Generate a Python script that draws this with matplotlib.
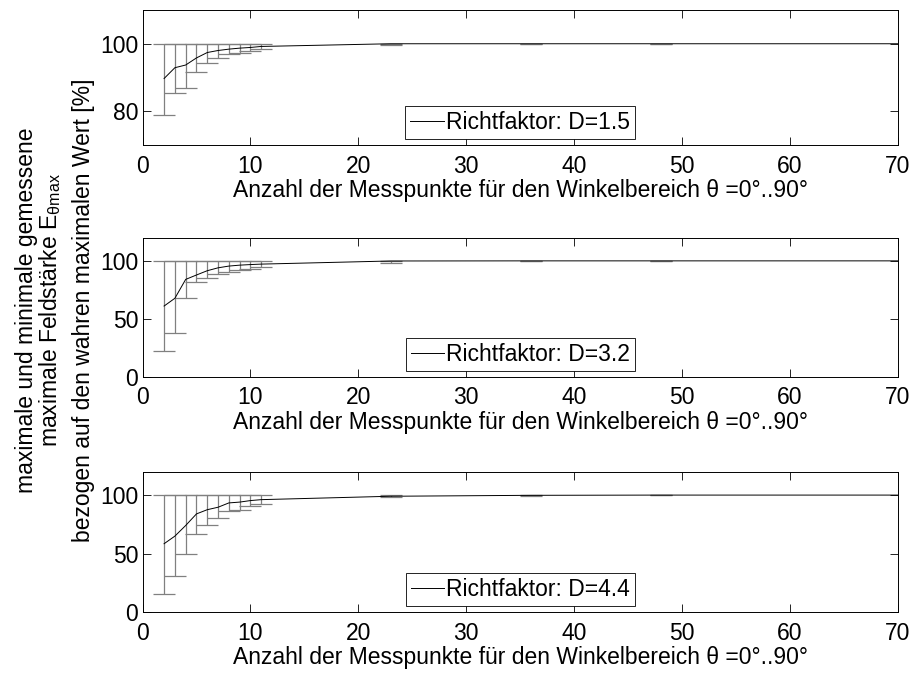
import numpy as np
import matplotlib
matplotlib.use("Agg")
import matplotlib.pyplot as plt

plt.rcParams['font.family'] = ['Liberation Sans', 'DejaVu Sans']
plt.rcParams['mathtext.fontset'] = 'custom'
plt.rcParams['mathtext.rm'] = 'Liberation Sans'
plt.rcParams['mathtext.it'] = 'Liberation Sans'

# Number of measurement points
n_points = [2, 3, 4, 5, 6, 7, 8, 9, 10, 11, 23, 36, 48, 74]

# D = 1.5
mean_d15 = [89.7, 92.9, 93.7, 95.8, 97.4, 98.0, 98.4, 98.7, 98.9, 99.2, 100, 100, 100, 100]
min_d15 = [79.0, 85.5, 86.8, 91.5, 94.4, 95.8, 96.9, 97.4, 98.0, 98.4, 99.7, 99.8, 100, 100]
max_d15 = [100] * 14

# D = 3.2
mean_d32 = [61.0, 67.7, 84.0, 87.8, 91.5, 94.0, 95.5, 96.3, 96.8, 97.2, 99.9, 100, 100, 100]
min_d32 = [22.0, 38.0, 68.0, 81.5, 85.5, 89.0, 90.5, 92.0, 93.3, 94.3, 98.5, 99.5, 99.6, 100]
max_d32 = [100] * 14

# D = 4.4
mean_d44 = [58.4, 64.9, 74.0, 83.9, 87.5, 89.6, 93.3, 94.0, 95.3, 96.1, 99.0, 99.8, 100, 100]
min_d44 = [15.6, 30.9, 49.9, 67.0, 74.8, 80.3, 86.5, 87.0, 90.9, 92.0, 98.5, 99.5, 99.7, 100]
max_d44 = [100] * 14

labels = ['Richtfaktor: D=1.5', 'Richtfaktor: D=3.2', 'Richtfaktor: D=4.4']
ylims = [(70, 110), (0, 120), (0, 120)]
yticks = [[80, 100], [0, 50, 100], [0, 50, 100]]
xticks = [0, 10, 20, 30, 40, 50, 60, 70]

xlabel = 'Anzahl der Messpunkte für den Winkelbereich θ =0°..90°'
ylabel_lines = ['maximale und minimale gemessene',
                'maximale Feldstärke E$_{\\mathrm{θmax}}$',
                'bezogen auf den wahren maximalen Wert [%]']

FS = 16.5
W, H = 916, 679
fig = plt.figure(figsize=(W / 100, H / 100), dpi=100)

left, right = 142.5, 898
boxes = [(10, 145), (237.7, 376.7), (471.7, 612)]
axes = []
for (top, bot) in boxes:
    ax = fig.add_axes([left / W, 1 - bot / H, (right - left) / W, (bot - top) / H])
    axes.append(ax)

series = [(mean_d15, min_d15, max_d15), (mean_d32, min_d32, max_d32), (mean_d44, min_d44, max_d44)]
gray = (0.5, 0.5, 0.5)

for i, ax in enumerate(axes):
    mean, mn, mx = [np.array(s, dtype=float) for s in series[i]]
    x = np.array(n_points, dtype=float)
    ax.errorbar(x, mean, yerr=[mean - mn, mx - mean], fmt='none', ecolor=gray,
                elinewidth=0.9, capsize=7.8, capthick=0.9, zorder=2)
    ax.plot(x, mean, color='black', lw=0.7, label=labels[i], zorder=3)
    ax.set_xlim(0, 70)
    ax.set_ylim(*ylims[i])
    ax.set_xticks(xticks)
    ax.set_yticks(yticks[i])
    ax.tick_params(direction='in', length=5.5, width=0.6, top=True, right=True,
                   labelsize=FS, colors='black')
    ax.tick_params(axis='x', pad=7)
    ax.tick_params(axis='y', pad=3)
    for sp in ax.spines.values():
        sp.set_linewidth(0.7)
        sp.set_color('black')
    ax.set_xlabel(xlabel, fontsize=FS, labelpad=1)
    leg = ax.legend(loc='lower center', fontsize=FS, fancybox=False, framealpha=1,
                    edgecolor='black', borderpad=0.22, handlelength=1.45,
                    handletextpad=0.1, borderaxespad=0.25)
    leg.get_frame().set_linewidth(0.6)

# three-line y label, centred on the middle panel
ycen = 1 - 310 / H
for xpos, line in zip([33, 57, 90], ylabel_lines):
    fig.text(xpos / W, ycen, line, fontsize=FS, rotation=90, rotation_mode='anchor',
             ha='center', va='baseline')

fig.savefig('out.png', dpi=100, facecolor='white')
